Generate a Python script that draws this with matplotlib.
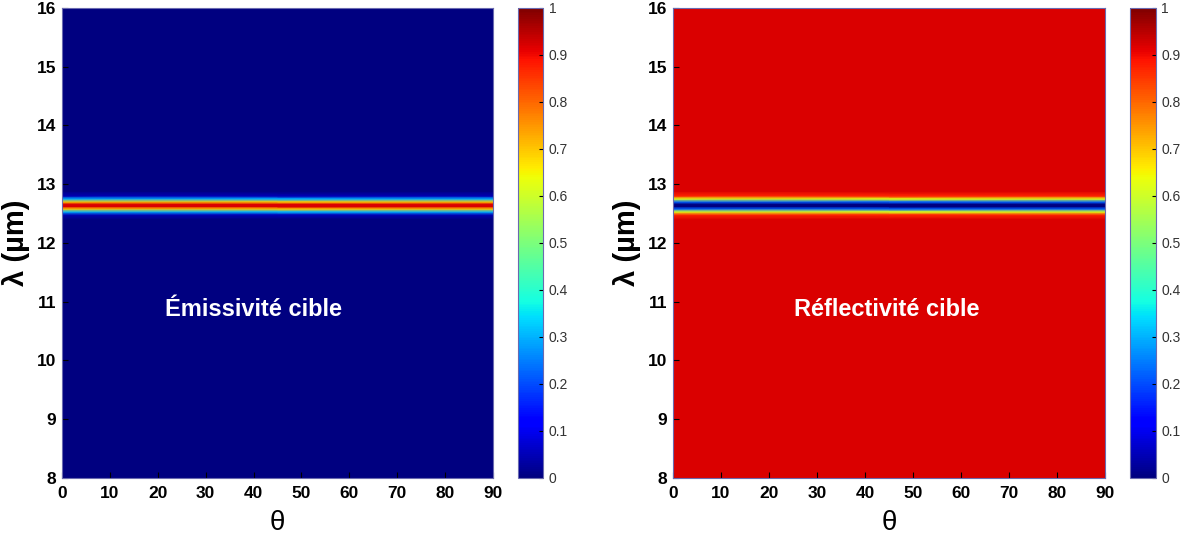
import matplotlib
matplotlib.use("Agg")
import matplotlib.pyplot as plt
import numpy as np

# ── Data ──────────────────────────────────────────────────────────────────
theta_edges = [0, 90]                      # angle range (deg)
lambda_rows = [8.0, 12.40, 12.48, 12.53, 12.58, 12.62, 12.66, 12.70, 12.75, 12.80, 12.88, 16.0]
emissivity  = [0.0, 0.0, 0.05, 0.30, 0.70, 0.92, 0.92, 0.70, 0.30, 0.05, 0.0, 0.0]
reflectivity = [0.92, 0.92, 0.87, 0.62, 0.22, 0.0, 0.0, 0.22, 0.62, 0.87, 0.92, 0.92]
titles = ["Émissivité cible", "Réflectivité cible"]
cbar_ticks = [0, 0.1, 0.2, 0.3, 0.4, 0.5, 0.6, 0.7, 0.8, 0.9, 1]
cbar_labels = ["0", "0.1", "0.2", "0.3", "0.4", "0.5", "0.6", "0.7", "0.8", "0.9", "1"]

plt.rcParams["font.family"] = ["Liberation Sans", "DejaVu Sans"]

fig = plt.figure(figsize=(11.97, 5.41), dpi=100)

panels = [
    (emissivity, titles[0], 40.0, [0.0518, 0.1165, 0.360, 0.869], [0.4327, 0.1165, 0.0209, 0.869]),
    (reflectivity, titles[1], 44.5, [0.5622, 0.1165, 0.361, 0.869], [0.944, 0.1165, 0.0217, 0.869]),
]

for values, label, label_x, ax_rect, cb_rect in panels:
    ax = fig.add_axes(ax_rect)
    cax = fig.add_axes(cb_rect)
    X, Y = np.meshgrid(theta_edges, lambda_rows)
    Z = np.repeat(np.array(values)[:, None], len(theta_edges), axis=1)
    mesh = ax.pcolormesh(X, Y, Z, cmap="jet", vmin=0, vmax=1, shading="gouraud")
    ax.set_xlim(0, 90)
    ax.set_ylim(8, 16)
    ax.set_xticks(range(0, 91, 10))
    ax.set_yticks(range(8, 17))
    ax.tick_params(direction="in", length=4, labelsize=12.5)
    ax.tick_params(axis="x", pad=6)
    ax.tick_params(axis="y", pad=4)
    for t in ax.get_xticklabels() + ax.get_yticklabels():
        t.set_fontweight("bold")
    ax.set_xlabel("θ", fontsize=20, labelpad=6)
    ax.set_ylabel("λ (µm)", fontsize=21, fontweight="bold", labelpad=5)
    ax.text(label_x, 10.86, label, color="white",
            fontsize=17, fontweight="bold", ha="center", va="center")
    for s in ax.spines.values():
        s.set_color("#6a6ab0")
        s.set_linewidth(0.8)

    cb = fig.colorbar(mesh, cax=cax, ticks=cbar_ticks)
    cb.ax.set_yticklabels(cbar_labels)
    cb.ax.tick_params(direction="in", length=3, labelsize=10, pad=4, labelcolor="#333333")
    cb.outline.set_edgecolor("#6a6ab0")
    cb.outline.set_linewidth(0.8)

fig.savefig("out.png", dpi=100)
